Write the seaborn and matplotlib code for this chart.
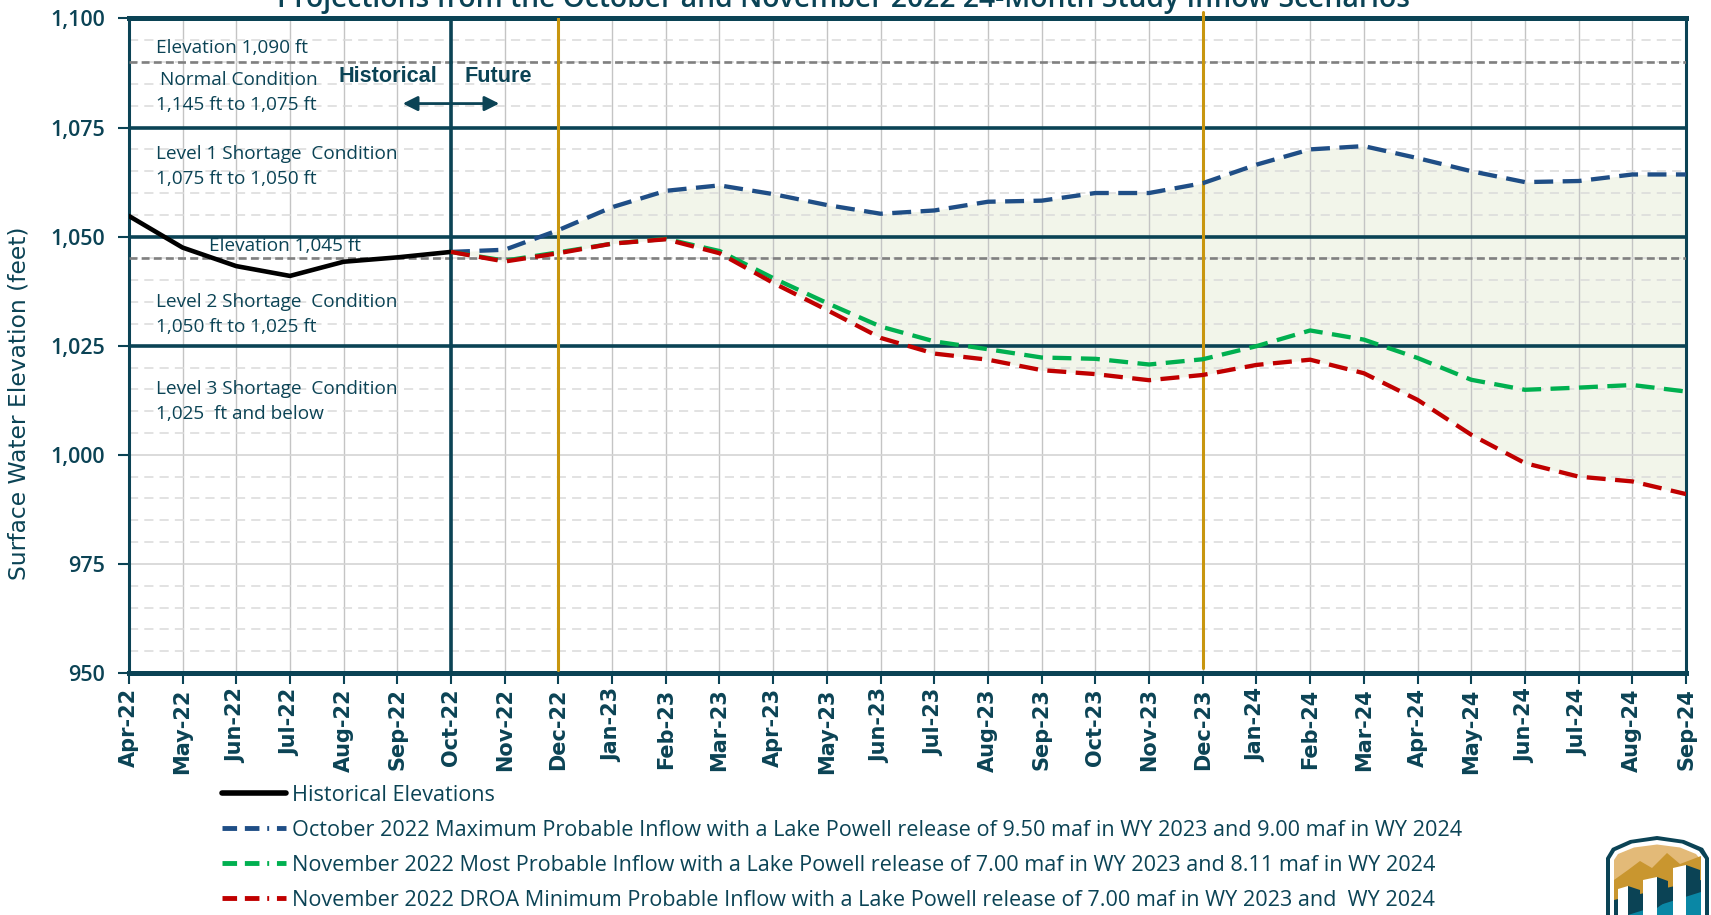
import numpy as np
import pandas as pd
import matplotlib
matplotlib.use('Agg')
import matplotlib.pyplot as plt
import seaborn as sns
from matplotlib.lines import Line2D
from matplotlib.patches import Polygon
from matplotlib.ticker import MultipleLocator

# month labels on the x axis
months = ['Apr-22', 'May-22', 'Jun-22', 'Jul-22', 'Aug-22', 'Sep-22', 'Oct-22', 'Nov-22',
          'Dec-22', 'Jan-23', 'Feb-23', 'Mar-23', 'Apr-23', 'May-23', 'Jun-23', 'Jul-23',
          'Aug-23', 'Sep-23', 'Oct-23', 'Nov-23', 'Dec-23', 'Jan-24', 'Feb-24', 'Mar-24',
          'Apr-24', 'May-24', 'Jun-24', 'Jul-24', 'Aug-24', 'Sep-24']

# historical elevations Apr-22 .. Oct-22
hist_elev = [1054.75, 1047.5, 1043.25, 1041.0, 1044.25, 1045.25, 1046.5]

# projections Oct-22 .. Sep-24
max_oct = [1046.5, 1047.0, 1051.5, 1056.75, 1060.5, 1061.75, 1059.75, 1057.25, 1055.25, 1056.0,
           1058.0, 1058.25, 1060.0, 1060.0, 1062.25, 1066.5, 1070.0, 1070.75, 1068.0, 1065.0,
           1062.5, 1062.75, 1064.25, 1064.25]
most_nov = [1046.5, 1044.5, 1046.4, 1048.4, 1049.5, 1046.7, 1040.5, 1034.8, 1029.4, 1026.0,
            1024.2, 1022.3, 1022.0, 1020.7, 1021.9, 1024.9, 1028.5, 1026.4, 1022.2, 1017.2,
            1014.9, 1015.4, 1016.0, 1014.5]
min_nov = [1046.5, 1044.3, 1046.2, 1048.4, 1049.4, 1046.2, 1039.4, 1033.2, 1026.8, 1023.2,
           1021.8, 1019.4, 1018.5, 1017.1, 1018.3, 1020.6, 1021.8, 1018.7, 1012.6, 1004.6,
           998.1, 995.0, 993.9, 991.0]

legend_labels = [
    'Historical Elevations',
    'October 2022 Maximum Probable Inflow with a Lake Powell release of 9.50 maf in WY 2023 and 9.00 maf in WY 2024',
    'November 2022 Most Probable Inflow with a Lake Powell release of 7.00 maf in WY 2023 and 8.11 maf in WY 2024',
    'November 2022 DROA Minimum Probable Inflow with a Lake Powell release of 7.00 maf in WY 2023 and  WY 2024',
]

TEAL = '#0B4355'
GOLD = '#C8960F'
BLUE = '#1F4E86'
GREEN = '#00B050'
RED = '#C00000'
FILL = '#F2F5EA'

sns.set_theme(style='white')
plt.rcParams['font.family'] = ['Open Sans', 'DejaVu Sans']

fig = plt.figure(figsize=(17.11, 9.15), dpi=100)
ax = fig.add_axes([0.0753, 0.2645, 0.9101, 0.7153])

x_hist = np.arange(len(hist_elev))
x_fut = np.arange(6, 6 + len(max_oct))
df_hist = pd.DataFrame({'month': x_hist, 'elev': hist_elev})
df_fut = pd.DataFrame({'month': x_fut, 'max': max_oct, 'most': most_nov, 'min': min_nov})

ax.fill_between(df_fut['month'], df_fut['min'], df_fut['max'], color=FILL, zorder=0.3, lw=0)

dash = (0, (4.4, 2.2))
sns.lineplot(data=df_hist, x='month', y='elev', color='black', lw=3.3, ax=ax, zorder=6)
sns.lineplot(data=df_fut, x='month', y='max', color=BLUE, lw=3.1, ls=dash, ax=ax, zorder=6)
sns.lineplot(data=df_fut, x='month', y='most', color=GREEN, lw=3.1, ls=dash, ax=ax, zorder=6)
sns.lineplot(data=df_fut, x='month', y='min', color=RED, lw=3.1, ls=dash, ax=ax, zorder=7)

ax.set_xlim(0, len(months) - 1)
ax.set_ylim(950, 1100)
ax.set_xticks(range(len(months)))
ax.set_xticklabels(months, rotation=90, family='DejaVu Sans', fontweight='bold',
                   fontsize=15, color=TEAL)
ax.set_yticks(range(950, 1101, 25))
ax.set_yticklabels([f'{v:,}' for v in range(950, 1101, 25)], fontsize=15.5,
                   fontweight='semibold', color=TEAL)
ax.yaxis.set_minor_locator(MultipleLocator(5))
ax.tick_params(axis='both', which='major', length=8, width=1.5, color=TEAL,
               bottom=True, left=True)
ax.tick_params(axis='x', pad=3)
ax.tick_params(axis='y', pad=9)
ax.tick_params(which='minor', length=0)
ax.set_xlabel('')
ax.set_ylabel('')

ax.set_axisbelow(True)
ax.xaxis.grid(True, color='#C4C4C4', lw=1.0)
ax.yaxis.grid(True, which='major', color='#D4D4D4', lw=1.2)
ax.yaxis.grid(True, which='minor', color='#DADADA', lw=1.1, ls=(0, (6, 4)))

for s in ax.spines.values():
    s.set_color(TEAL)
ax.spines['top'].set_linewidth(3.6)
ax.spines['bottom'].set_linewidth(3.6)
ax.spines['left'].set_linewidth(2.2)
ax.spines['right'].set_linewidth(2.2)

for lvl in [1075, 1050, 1025]:
    ax.axhline(lvl, color=TEAL, lw=2.6, zorder=3)
for lvl in [1090, 1045]:
    ax.axhline(lvl, color='#808080', lw=1.9, ls=(0, (3, 1.6)), zorder=4)

ax.axvline(6, color=TEAL, lw=2.6, zorder=4)
ax.axvline(8, ymin=0.005, ymax=1, color=GOLD, lw=2.2, zorder=5)
ax.axvline(20, ymin=0.008, ymax=1.01, color=GOLD, lw=2.2, zorder=5, clip_on=False)

# zone labels
zone_text = [
    (0.5, 1093.3, 'Elevation 1,090 ft'),
    (0.58, 1086.0, 'Normal Condition'),
    (0.5, 1080.2, '1,145 ft to 1,075 ft'),
    (0.5, 1069.0, 'Level 1 Shortage  Condition'),
    (0.5, 1063.3, '1,075 ft to 1,050 ft'),
    (1.5, 1047.9, 'Elevation 1,045 ft'),
    (0.5, 1035.0, 'Level 2 Shortage  Condition'),
    (0.5, 1029.4, '1,050 ft to 1,025 ft'),
    (0.5, 1015.0, 'Level 3 Shortage  Condition'),
    (0.5, 1009.3, '1,025  ft and below'),
]
for xx, yy, t in zone_text:
    ax.text(xx, yy, t, fontsize=13.7, color=TEAL, va='center', ha='left', zorder=8)

ax.text(5.75, 1086.6, 'Historical', fontsize=15.6, fontweight='bold', color=TEAL,
        family=['Liberation Sans', 'DejaVu Sans'], ha='right', va='center', zorder=8)
ax.text(6.25, 1086.6, 'Future', fontsize=15.6, fontweight='bold', color=TEAL,
        family=['Liberation Sans', 'DejaVu Sans'], ha='left', va='center', zorder=8)
ax.annotate('', xy=(5.05, 1080.5), xytext=(6.95, 1080.5),
            arrowprops=dict(arrowstyle='<|-|>', color=TEAL, lw=2, mutation_scale=22), zorder=8)

fig.text(0.4927, 1 - 7 / 915, 'Projections from the October and November 2022 24-Month Study Inflow Scenarios',
         fontsize=20.3, fontweight='semibold', color=TEAL, ha='center', va='baseline')
fig.text(19.5 / 1711, 1 - 403 / 915, 'Surface Water Elevation (feet)', rotation=90,
         family='DejaVu Sans', fontsize=16.8, color=TEAL, ha='center', va='center')

handles = [
    Line2D([], [], color='black', lw=4),
    Line2D([], [], color=BLUE, lw=3.5, ls=(0, (3, 1.6, 3, 1.6, 0.4, 1.6))),
    Line2D([], [], color=GREEN, lw=3.5, ls=(0, (3, 1.6, 3, 1.6, 0.4, 1.6))),
    Line2D([], [], color=RED, lw=3.5, ls=(0, (3, 1.6, 3, 1.6, 0.4, 1.6))),
]
fig.legend(handles, legend_labels, loc='upper left', bbox_to_anchor=(222 / 1711, 1 - 785 / 915),
           frameon=False, fontsize=15.6, labelcolor=TEAL, handlelength=2.95, handletextpad=0.3,
           labelspacing=0.645, borderpad=0, borderaxespad=0)

# agency logo, bottom right corner
def px(pts):
    return [(x / 1711, 1 - y / 915) for x, y in pts]

logo = [
    ('#0B4355', [(1606, 915), (1606, 858), (1612, 848), (1630, 840), (1657, 836), (1684, 840),
                 (1703, 848), (1709, 858), (1709, 915)]),
    ('white', [(1610, 915), (1610, 859), (1615, 851), (1632, 843.5), (1657, 840), (1682, 843.5),
               (1699, 851), (1705, 859), (1705, 915)]),
    ('#E3BA78', [(1614, 915), (1614, 860), (1618, 854), (1634, 847.5), (1657, 844.5),
                 (1680, 847.5), (1696, 854), (1701, 860), (1701, 915)]),
    ('#C9962F', [(1614, 880), (1628, 870), (1640, 861), (1652, 868), (1667, 853), (1680, 864),
                 (1701, 856), (1701, 915), (1614, 915)]),
    ('#0B4355', [(1614, 900), (1701, 880), (1701, 915), (1614, 915)]),
    ('#0A87A5', [(1628, 915), (1701, 892), (1701, 915)]),
    ('white', [(1618, 915), (1618, 889), (1628, 886), (1628, 915)]),
    ('#0B4355', [(1628, 886), (1640, 890), (1640, 905), (1628, 915)]),
    ('white', [(1643, 915), (1643, 880), (1657, 877), (1657, 915)]),
    ('#0B4355', [(1657, 877), (1668, 881), (1668, 900), (1657, 908)]),
    ('white', [(1673, 915), (1673, 868), (1686, 865), (1686, 915)]),
    ('#0B4355', [(1686, 865), (1700, 870), (1700, 886), (1686, 895)]),
]
for col, pts in logo:
    fig.add_artist(Polygon(px(pts), closed=True, facecolor=col, edgecolor='none',
                           transform=fig.transFigure))

fig.savefig('out.png', dpi=100)
